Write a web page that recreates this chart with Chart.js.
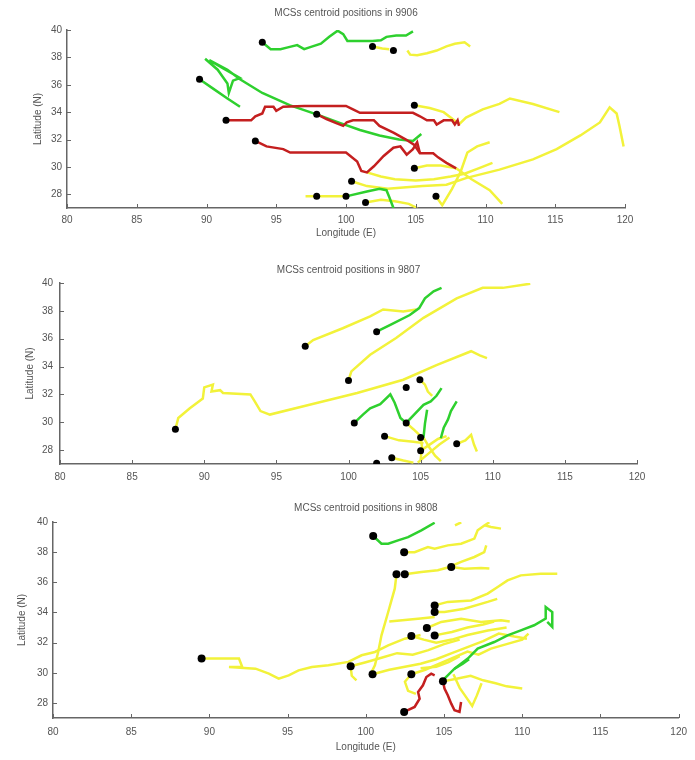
<!DOCTYPE html>
<html>
<head>
<meta charset="utf-8">
<script src="https://cdn.jsdelivr.net/npm/chart.js@4"></script>
<style>
  body { margin: 0; background: #fff; width: 695px; height: 760px; overflow: hidden; position: relative; }
  canvas { position: absolute; left: 0; }
</style>
</head>
<body>
<canvas id="c1" width="695" height="245" style="top:0px"></canvas>
<canvas id="c2" width="695" height="243" style="top:245px"></canvas>
<canvas id="c3" width="695" height="272" style="top:488px"></canvas>
<script>
// axes
const lonTicks = [80, 85, 90, 95, 100, 105, 110, 115, 120];
const latTicks = [28, 30, 32, 34, 36, 38, 40];

// stage of each track piece: g = green, y = yellow, r = red
// 9906
const starts9906 = [[94,39.1],[101.9,38.8],[103.4,38.5],[89.5,36.4],[91.4,33.4],[97.9,33.85],[104.9,34.5],[93.5,31.9],[104.9,29.9],[100.4,28.95],[97.9,27.85],[100,27.85],[106.45,27.85],[101.4,27.4]];
const tracks9906 = [
  ['y', [[101.9,38.8],[102.6,38.65],[103.1,38.6]]],
  ['y', [[104.4,38.5],[104.6,38.2],[105.1,38.15],[105.8,38.3],[106.5,38.5],[107.2,38.8],[107.8,39],[108.5,39.1],[108.9,38.8]]],
  ['y', [[108.1,33.1],[108.6,33.6],[109.8,34.2],[111,34.6],[111.75,35],[113.4,34.6],[115.3,34]]],
  ['y', [[104.9,34.5],[106,34.3],[107,34],[107.9,33.3]]],
  ['y', [[104.9,29.9],[105.8,30.1],[106.8,30.1],[107.9,29.9]]],
  ['y', [[100.4,28.95],[101.5,28.6],[103,28.4],[104.1,28.5],[105.5,28.6],[107.2,28.7],[108.65,29.2],[111,29.8],[113.4,30.55],[115.1,31.3],[116.8,32.3],[118.2,33.25],[118.9,34.35],[119.4,33.9],[119.6,33],[119.9,31.5]]],
  ['y', [[106.45,27.85],[106.9,27.2],[107.6,28.4],[108.2,29.6],[108.7,31.05],[109.4,31.5],[110.3,31.8]]],
  ['y', [[107.9,29.9],[109,29.1],[110.3,28.3],[111.2,27.3]]],
  ['y', [[101.5,29.6],[102.5,29.3],[103.5,29.1],[105,29.0],[106.3,29.1],[107.5,29.3],[108.5,29.5],[109.5,29.9],[110.5,30.3]]],
  ['y', [[97.1,27.85],[100,27.85]]],
  ['y', [[101.4,27.4],[102.5,27.6],[103.5,27.5],[104.5,27.3],[105.1,27]]],
  ['g', [[94,39.1],[94.6,38.6],[95.3,38.6],[95.9,38.75],[96.5,38.9],[97,38.6],[97.6,38.8],[98.2,39],[98.8,39.5],[99.4,39.95],[99.8,39.7],[100.1,39.2],[101,39.2],[101.9,39.2],[102.5,39.25],[102.9,39.5],[103.6,39.6],[104.3,39.6],[104.8,39.9]]],
  ['g', [[89.5,36.4],[90.5,35.7],[91.5,35],[92.4,34.4]]],
  ['g', [[89.9,37.9],[90.8,37.1],[91.5,36.1],[91.6,35.4],[91.9,36.3],[92.4,36.5],[91.2,37.2],[90.2,37.8],[91.5,37.1],[92.4,36.4],[94,35.4],[96,34.5],[98,33.8],[99.6,33.2],[101,32.7],[102.4,32.3],[103.8,32],[104.8,31.9],[105.4,32.4]]],
  ['g', [[100,27.85],[101.5,28.2],[102.4,28.4],[102.9,28.3],[103.1,27.8],[103.4,27]]],
  ['r', [[91.4,33.4],[93.2,33.4],[93.5,33.7],[94,33.9],[94.2,34.4],[94.8,34.4],[95,34.1],[95.5,34.4],[97,34.45],[100,34.45],[100.5,34.2],[101,33.95],[104.8,33.95],[105.3,33.7],[105.8,33.4],[106.3,33.4],[106.5,33.1],[107,33.4],[107.6,33.4],[107.8,33.1],[108,33.4],[108.1,33]]],
  ['r', [[97.9,33.85],[98.6,33.5],[99.3,33.2],[99.8,33.0],[100.05,33.25],[100.5,33.4],[102,33.4],[102.4,33.0],[103.4,32.5],[104.3,32.0],[104.9,31.6],[105.3,31.0],[106.25,31.0],[106.6,30.7],[107.2,30.3],[107.9,29.9]]],
  ['r', [[93.5,31.9],[94.3,31.5],[95.5,31.3],[96,31.05],[100,31.05],[100.8,30.4],[101.1,29.7],[101.5,29.6],[102,30.05],[102.7,30.8],[103.4,31.4],[103.9,31.5],[104.35,30.9],[104.8,31.3],[105.1,31.8],[105.3,31.0]]]
];

// 9807
const starts9807 = [[97,35.45],[101.95,36.5],[100,33.0],[88,29.5],[104,32.5],[104.95,33.05],[100.4,29.95],[104,29.95],[102.5,29],[105,28.9],[105,27.95],[107.5,28.45],[103,27.45],[101.95,27.05]];
const tracks9807 = [
  ['y', [[97,35.45],[97.55,35.9],[99.6,36.75],[101.5,37.6],[102.4,38.1],[103.8,37.95],[104.7,38.1]]],
  ['y', [[100,33],[100.2,33.65],[101.5,34.85],[103.3,36.05],[105.2,37.5],[107.5,38.9],[109.3,39.65],[110.7,39.65],[112.6,39.95]]],
  ['y', [[88,29.5],[88.2,30.3],[89,31],[89.9,31.7],[90,32.5],[90.6,32.7],[90.5,32.2],[91.1,32.3],[91.3,32.1],[93.2,32.0],[93.5,31.5],[93.9,30.8],[94.55,30.55],[97.3,31.25],[100.6,32.1],[103.8,33.05],[106.1,34.1],[108.5,35.1],[109.1,34.8],[109.6,34.6]]],
  ['y', [[104.95,33.05],[105.3,32.7],[105.5,32.2],[105.8,31.9]]],
  ['y', [[104,29.95],[104.5,29.5],[105,29.0]]],
  ['y', [[102.5,29],[103.5,28.7],[104.5,28.6],[105.2,28.5]]],
  ['y', [[105,27.95],[105.5,28.3],[106.2,28.8],[106.8,29]]],
  ['y', [[104.8,27.1],[105.6,27.8],[106.3,28.4],[107,28.9]]],
  ['y', [[105.2,28.9],[105.6,28.2],[106,27.6],[106.4,27.2]]],
  ['y', [[107.5,28.45],[108.1,28.7],[108.5,29.1],[108.7,28.4],[108.9,27.9]]],
  ['y', [[103,27.45],[103.8,27.25],[104.5,27.1]]],
  ['y', [[105,28.9],[105.1,28.2],[105,27.3]]],
  ['g', [[101.95,36.5],[102.9,37],[104.25,37.7],[104.9,38.2],[105.3,38.9],[105.9,39.4],[106.45,39.65]]],
  ['g', [[100.4,29.95],[101,30.55],[101.5,31],[102.2,31.3],[102.9,32],[103.2,31.4],[103.6,30.3],[104,29.95],[104.5,30.5],[105.2,31.25],[105.7,31.5],[106.1,31.9],[106.45,32.45]]],
  ['g', [[105.45,30.9],[105.3,29.9],[105.2,28.9]]],
  ['g', [[107.5,31.5],[107.1,30.8],[106.9,30.2],[106.6,29.6],[106.4,28.85]]]
];

// 9808
const starts9808 = [[100.47,39.07],[102.45,38],[105.46,37.02],[101.96,36.53],[102.49,36.53],[89.5,30.94],[99.03,30.43],[100.43,29.9],[102.91,29.9],[104.4,34.47],[104.4,34.03],[103.9,32.97],[102.91,32.44],[104.4,32.48],[104.93,29.43],[102.45,27.4]];
const tracks9808 = [
  ['y', [[102.45,38],[103.12,38],[103.97,38.34],[104.4,38.23],[105.24,38.45],[106.09,38.56],[106.94,38.9],[107.15,39.45],[107.6,39.78],[107.9,39.98]]],
  ['y', [[107.6,39.78],[108,39.67],[108.64,39.56]]],
  ['y', [[105.7,39.78],[106.1,39.98]]],
  ['y', [[105.46,37.02],[106.3,36.9],[107.36,36.95],[107.9,36.92]]],
  ['y', [[102.49,36.53],[103.55,36.68],[104.6,36.8],[105.3,37.0],[106.09,37.35],[106.94,37.68],[107.57,38],[107.7,38.45]]],
  ['y', [[101.96,36.53],[101.85,35.58],[101.43,34.03],[101,32.48],[100.79,31.38],[100.58,30.5],[100.26,29.83]]],
  ['y', [[89.5,30.94],[90.4,30.94],[91.89,30.94],[92.1,30.38],[91.25,30.38],[92.95,30.27],[93.8,29.94],[94.43,29.61],[95.07,29.83],[95.7,30.16],[96.55,30.38],[97.61,30.5],[98.88,30.72],[99.73,31.16],[100.58,31.38],[101.43,31.82],[102.49,32.26],[103.5,32.5]]],
  ['y', [[104.4,34.47],[105.24,34.7],[106.73,34.8],[107.79,35.25],[108.43,35.69],[109.06,36.13],[109.91,36.46],[111.18,36.57],[112.24,36.57]]],
  ['y', [[104.4,34.03],[105.03,34.03],[106.3,34.25],[107.79,34.7],[108.4,34.9]]],
  ['y', [[103.9,32.97],[104.82,33.37],[106.09,33.59],[107.36,33.37],[108.64,33.48],[109.2,33.4]]],
  ['y', [[101.5,33.4],[102.5,33.5],[103.5,33.6],[104.4,33.7]]],
  ['y', [[104.4,32.48],[105.5,32.7],[106.5,33],[107.5,33.2],[108.2,33.4]]],
  ['y', [[102.91,32.44],[103.7,32.2],[104.5,32],[105.5,32.2],[106.5,32.5],[107.8,32.8],[109,33]]],
  ['y', [[100.43,29.9],[101.5,30.2],[102.5,30.4],[103.5,30.6],[104.5,30.9],[105.5,31.3],[106.5,31.7],[107.5,32.1],[108.5,32.6],[109.5,32.4],[110.3,32.26]]],
  ['y', [[102.91,29.9],[103.8,30.2],[104.7,30.6],[105.6,31],[106.5,31.4],[107.2,31.2],[108,31.6],[109,31.9],[110,32.2],[110.4,32.6]]],
  ['y', [[99.03,30.43],[100,30.7],[101,31],[102,31.3],[103,31.2],[104,31.5],[105,31.9],[106,32.2]]],
  ['y', [[103.5,30.3],[104.5,30.4],[105.3,30.7],[106,31.1]]],
  ['y', [[104.93,29.43],[105.8,29.6],[106.7,29.8],[107.5,29.5],[108.3,29.3],[109,29.1],[110,28.95]]],
  ['y', [[105.6,29.9],[106,29],[106.4,28.4],[106.8,27.8],[107.1,28.5],[107.4,29.3]]],
  ['y', [[102.9,29.9],[102.5,29.4],[102.7,28.8],[103.2,28.6]]],
  ['y', [[99.03,30.43],[99.1,29.8],[99.4,29.5]]],
  ['g', [[100.47,39.07],[101,38.56],[101.43,38.56],[102.06,38.78],[102.7,39],[103.55,39.45],[104.4,39.95]]],
  ['g', [[104.82,29.39],[105.67,30.27],[106.52,30.94],[107.15,31.6],[108.21,32.04],[109.06,32.48],[109.91,32.81],[110.76,33.15],[111.5,33.59],[111.5,34.36],[111.92,34.03],[111.92,33.04],[111.6,33.37]]],
  ['g', [[105.67,30.27],[106.2,30.6],[106.6,30.9]]],
  ['r', [[102.45,27.4],[103.12,27.73],[103.44,28.28],[103.34,28.73],[103.65,29.17],[103.87,29.72],[104.18,29.94],[104.4,29.83]]],
  ['r', [[104.93,29.43],[105.03,28.95],[105.24,28.51],[105.46,27.95],[105.67,27.51],[105.99,27.4],[106.09,28.06]]]
];

const stageColor = { g: '#2ed02e', y: '#f2f23a', r: '#c41f1f' };
const stageOrder = { y: 3, g: 2, r: 1 };
const fontFamily = '"Liberation Sans", Arial, sans-serif';

// matlab-like tick marks pointing into the plot
const innerTicks = {
  id: 'innerTicks',
  afterDraw(chart) {
    const { ctx, chartArea: a, scales: { x, y } } = chart;
    ctx.save();
    ctx.strokeStyle = '#666';
    ctx.lineWidth = 1;
    ctx.beginPath();
    lonTicks.forEach(v => {
      const px = Math.round(x.getPixelForValue(v)) + 0.5;
      ctx.moveTo(px, a.bottom);
      ctx.lineTo(px, a.bottom - 4);
    });
    latTicks.forEach(v => {
      const py = Math.round(y.getPixelForValue(v)) + 0.5;
      ctx.moveTo(a.left, py);
      ctx.lineTo(a.left + 4, py);
    });
    ctx.stroke();
    ctx.restore();
  }
};

function makePanel(id, titleText, tracks, starts, g) {
  const datasets = tracks.map(([stage, pts]) => ({
    data: pts.map(([x, y]) => ({ x, y })),
    showLine: true,
    borderColor: stageColor[stage],
    borderWidth: 2.5,
    pointRadius: 0,
    tension: 0,
    order: stageOrder[stage]
  }));
  datasets.push({
    data: starts.map(([x, y]) => ({ x, y })),
    showLine: false,
    pointRadius: g.dot,
    pointBackgroundColor: '#000',
    pointBorderWidth: 0,
    order: 0
  });

  new Chart(document.getElementById(id), {
    type: 'scatter',
    data: { datasets },
    options: {
      responsive: false,
      animation: false,
      devicePixelRatio: 1,
      layout: { padding: { top: 0, left: g.left - 40, right: 695 - g.right, bottom: g.padBottom } },
      plugins: {
        legend: { display: false },
        tooltip: { enabled: false },
        title: {
          display: true,
          text: titleText,
          fullSize: false,
          color: '#555',
          font: { size: 10, family: fontFamily, weight: 'normal' },
          padding: { top: g.titleTop, bottom: g.titleBottom }
        }
      },
      scales: {
        x: {
          type: 'linear',
          min: 80, max: 120,
          afterBuildTicks: s => { s.ticks = lonTicks.map(v => ({ value: v })); },
          afterFit: s => { s.height = g.xHeight; },
          grid: { display: false, drawTicks: false },
          border: { display: true, color: '#666', width: 1.5 },
          ticks: { color: '#555', padding: g.xPad, font: { size: 10, family: fontFamily } },
          title: {
            display: g.xTitle,
            text: 'Longitude (E)',
            color: '#555',
            font: { size: 10, family: fontFamily },
            padding: { top: 0, bottom: g.xTitlePad }
          }
        },
        y: {
          type: 'linear',
          min: 27, max: 40,
          afterBuildTicks: s => { s.ticks = latTicks.map(v => ({ value: v })); },
          afterFit: s => { s.width = 40; },
          grid: { display: false, drawTicks: false },
          border: { display: true, color: '#666', width: 1.5 },
          ticks: { color: '#555', padding: g.yPad, font: { size: 10, family: fontFamily } },
          title: {
            display: true,
            text: 'Latitude (N)',
            color: '#555',
            font: { size: 10, family: fontFamily },
            padding: { top: g.yTitlePad, bottom: 0 }
          }
        }
      }
    },
    plugins: [innerTicks]
  });
}

makePanel('c1', 'MCSs centroid positions in 9906', tracks9906, starts9906,
  { left: 67, right: 625, padBottom: 2, titleTop: 7, titleBottom: 11, xHeight: 35, xPad: 6, xTitle: true, xTitlePad: 4, yPad: 5, yTitlePad: 5, dot: 3.5 });
makePanel('c2', 'MCSs centroid positions in 9807', tracks9807, starts9807,
  { left: 60, right: 637, padBottom: 4, titleTop: 19, titleBottom: 7, xHeight: 20, xPad: 7, xTitle: false, xTitlePad: 0, yPad: 7, yTitlePad: 4, dot: 3.5 });
makePanel('c3', 'MCSs centroid positions in 9808', tracks9808, starts9808,
  { left: 53, right: 682, padBottom: 4, titleTop: 14, titleBottom: 8, xHeight: 38, xPad: 8, xTitle: true, xTitlePad: 3, yPad: 5, yTitlePad: 3, dot: 4 });
</script>
</body>
</html>
